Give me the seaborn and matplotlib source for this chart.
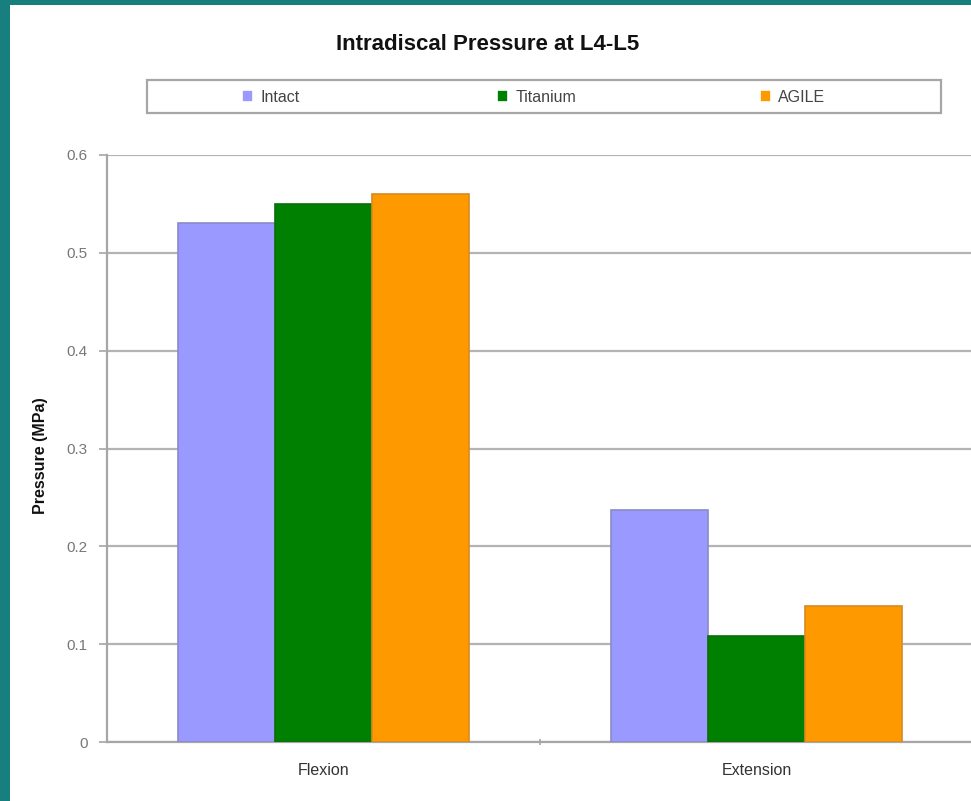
import matplotlib
matplotlib.use("Agg")
import matplotlib.pyplot as plt
from matplotlib.patches import Rectangle
import seaborn as sns
import pandas as pd

# Data
movements = ["Flexion", "Extension"]
groups = ["Intact", "Titanium", "AGILE"]
intact = [0.53, 0.237]
titanium = [0.55, 0.108]
agile = [0.56, 0.139]
y_ticks = [0, 0.1, 0.2, 0.3, 0.4, 0.5, 0.6]
y_tick_labels = ["0", "0.1", "0.2", "0.3", "0.4", "0.5", "0.6"]

colors = {"Intact": "#9999FF", "Titanium": "#008000", "AGILE": "#FF9900"}
edges = {"Intact": "#8a8ac8", "Titanium": "#0a6e0a", "AGILE": "#d88a20"}

df = pd.DataFrame({
    "Movement": movements * 3,
    "Group": [g for g in groups for _ in movements],
    "Pressure": intact + titanium + agile,
})

sns.set_theme(style="white")
plt.rcParams["font.family"] = ["Liberation Sans", "DejaVu Sans"]

W, H = 971, 801
fig = plt.figure(figsize=(W / 100, H / 100), dpi=100)
fig.patch.set_facecolor("#17807f")
# white panel inside the teal frame
fig.add_artist(Rectangle((10 / W, 0), 1 - 10 / W, (H - 5) / H,
                         transform=fig.transFigure, facecolor="white",
                         edgecolor="none", zorder=0))

ax = fig.add_axes([107 / W, 59 / H, 866 / W, 587 / H])
ax.set_facecolor("white")

sns.barplot(data=df, x="Movement", y="Pressure", hue="Group",
            hue_order=groups, order=movements, palette=colors,
            width=0.67, gap=0, saturation=1, ax=ax, zorder=3,
            linewidth=1.2)

# bar outlines per group
for container, g in zip(ax.containers, groups):
    for bar in container:
        bar.set_edgecolor(edges[g])

ax.set_xlim(-0.5, 1.5)
ax.set_ylim(0, 0.6)
ax.set_yticks(y_ticks)
ax.set_yticklabels(y_tick_labels)
ax.yaxis.grid(True, color="#b3b3b3", linewidth=1.6, zorder=0)
ax.xaxis.grid(False)

for side in ["top", "right"]:
    ax.spines[side].set_visible(False)
for side in ["left", "bottom"]:
    ax.spines[side].set_color("#a6a6a6")
    ax.spines[side].set_linewidth(1.6)

ax.tick_params(axis="y", which="major", left=True, length=6, width=1.2,
               color="#a6a6a6", labelsize=11, labelcolor="#777777", pad=8)
ax.tick_params(axis="x", which="major", bottom=False, labelsize=11.5,
               labelcolor="#333333", pad=9)
ax.set_xticks([0.5], minor=True)
ax.tick_params(axis="x", which="minor", bottom=True, length=5, width=1.2,
               color="#a6a6a6", direction="inout")

ax.set_xlabel("")
ax.set_ylabel("")

handles, labels = ax.get_legend_handles_labels()
ax.get_legend().remove()

fig.text(41 / W, 1 - 456 / H, "Pressure (MPa)", rotation=90,
         ha="center", va="center", fontsize=11.5, fontweight="bold",
         color="#111111")

fig.text(488 / W, 1 - 44 / H, "Intradiscal Pressure at L4-L5",
         ha="center", va="center", fontsize=16, fontweight="bold",
         color="#111111")

# legend frame and entries
fig.add_artist(Rectangle((147 / W, 1 - 113 / H), (941 - 147) / W, 33 / H,
                         transform=fig.transFigure, facecolor="white",
                         edgecolor="#a6a6a6", linewidth=1.6, zorder=2))
entry_x = [242, 497, 760]
for h, lab, x in zip(handles, labels, entry_x):
    leg = fig.legend([h], [lab], loc="center left",
                     bbox_to_anchor=(x / W, 1 - 97 / H), frameon=False,
                     fontsize=11.5, handlelength=0.7, handleheight=0.8,
                     handletextpad=0.45, borderpad=0, borderaxespad=0,
                     labelcolor="#444444")
    leg.set_zorder(3)

fig.savefig("out.png", dpi=100, facecolor=fig.get_facecolor())
